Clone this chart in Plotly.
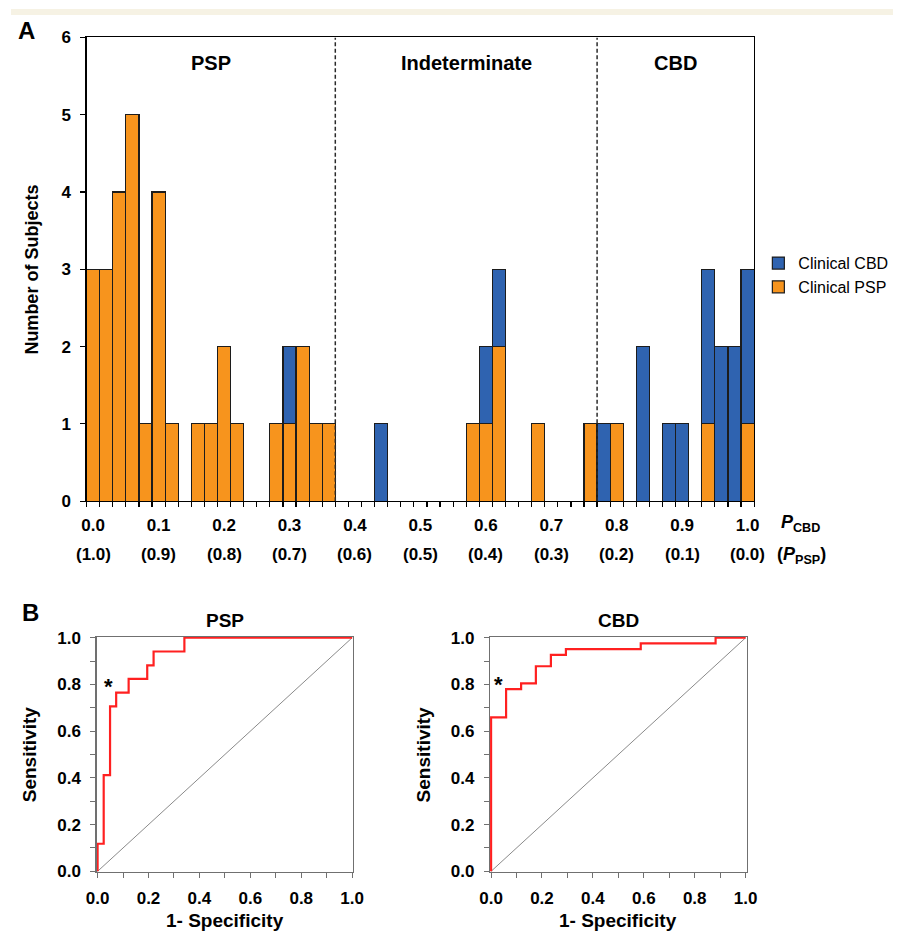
import plotly.graph_objects as go

# ---------------- data ----------------
bin_centers = [0.00, 0.02, 0.04, 0.06, 0.08, 0.10, 0.12, 0.14, 0.16, 0.18,
               0.20, 0.22, 0.24, 0.26, 0.28, 0.30, 0.32, 0.34, 0.36, 0.38,
               0.40, 0.42, 0.44, 0.46, 0.48, 0.50, 0.52, 0.54, 0.56, 0.58,
               0.60, 0.62, 0.64, 0.66, 0.68, 0.70, 0.72, 0.74, 0.76, 0.78,
               0.80, 0.82, 0.84, 0.86, 0.88, 0.90, 0.92, 0.94, 0.96, 0.98, 1.00]
clinical_psp = [3, 3, 4, 5, 1, 4, 1, 0, 1, 1,
                2, 1, 0, 0, 1, 1, 2, 1, 1, 0,
                0, 0, 0, 0, 0, 0, 0, 0, 0, 1,
                1, 2, 0, 0, 1, 0, 0, 0, 1, 0,
                1, 0, 0, 0, 0, 0, 0, 1, 0, 0, 1]
clinical_cbd = [0, 0, 0, 0, 0, 0, 0, 0, 0, 0,
                0, 0, 0, 0, 0, 1, 0, 0, 0, 0,
                0, 0, 1, 0, 0, 0, 0, 0, 0, 0,
                1, 1, 0, 0, 0, 0, 0, 0, 0, 1,
                0, 0, 2, 0, 1, 1, 0, 2, 2, 2, 2]
thresholds = [0.37, 0.77]
region_labels = ["PSP", "Indeterminate", "CBD"]
region_x = [0.18, 0.57, 0.89]
pcbd_ticks = [0.0, 0.1, 0.2, 0.3, 0.4, 0.5, 0.6, 0.7, 0.8, 0.9, 1.0]
pcbd_text = ["0.0", "0.1", "0.2", "0.3", "0.4", "0.5", "0.6", "0.7", "0.8", "0.9", "1.0"]
ppsp_text = ["(1.0)", "(0.9)", "(0.8)", "(0.7)", "(0.6)", "(0.5)", "(0.4)", "(0.3)", "(0.2)", "(0.1)", "(0.0)"]

# ROC curves (corner points, vertical-then-horizontal steps)
psp_fpr = [0.0, 0.024, 0.049, 0.073, 0.122, 0.195, 0.220, 0.341, 1.0]
psp_tpr = [0.0, 0.118, 0.412, 0.706, 0.765, 0.824, 0.882, 0.941, 1.0]
cbd_fpr = [0.0, 0.059, 0.118, 0.176, 0.235, 0.294, 0.588, 0.882, 1.0]
cbd_tpr = [0.0, 0.659, 0.780, 0.805, 0.878, 0.927, 0.951, 0.976, 1.0]
psp_star = (0.044, 0.79)
cbd_star = (0.030, 0.80)
roc_ticks = [0.0, 0.2, 0.4, 0.6, 0.8, 1.0]
roc_text = ["0.0", "0.2", "0.4", "0.6", "0.8", "1.0"]

# ---------------- style ----------------
W, H = 904, 944
FONT = "Liberation Sans, Arial, sans-serif"
ORANGE = "#F7941D"
BLUE = "#2F63B0"
EDGE = "#1c1c1c"
RED = "#FF2020"
FRAME = "#707070"


def xp(px):
    return px / W


def yp(px):
    return 1 - px / H


fig = go.Figure()

fig.add_trace(go.Bar(x=bin_centers, y=clinical_psp, width=0.02, name="Clinical PSP",
                     marker=dict(color=ORANGE, line=dict(color=EDGE, width=1.2)),
                     xaxis="x", yaxis="y"))
fig.add_trace(go.Bar(x=bin_centers, y=clinical_cbd, width=0.02, name="Clinical CBD",
                     marker=dict(color=BLUE, line=dict(color=EDGE, width=1.2)),
                     xaxis="x", yaxis="y"))

for fpr, tpr, xa, ya in [(psp_fpr, psp_tpr, "x2", "y2"), (cbd_fpr, cbd_tpr, "x3", "y3")]:
    fig.add_trace(go.Scatter(x=[0, 1], y=[0, 1], mode="lines", showlegend=False,
                             line=dict(color="#8a8a8a", width=1), xaxis=xa, yaxis=ya))
    fig.add_trace(go.Scatter(x=fpr, y=tpr, mode="lines", showlegend=False,
                             line=dict(color=RED, width=2.2, shape="vh"), xaxis=xa, yaxis=ya))

tickfont = dict(family=FONT, size=17, color="black", weight="bold")

hist_x = [xp(77.5), xp(761.7)]
hist_y = [yp(502.3), yp(29)]
roc_y = [yp(881), yp(640.7)]
roc1_x = [xp(87.7), xp(350.7)]
roc2_x = [xp(491), xp(754)]

layout = dict(
    width=W, height=H, margin=dict(l=0, r=0, t=0, b=0),
    paper_bgcolor="white", plot_bgcolor="white",
    barmode="stack", bargap=0,
    showlegend=True,
    legend=dict(x=xp(766), y=yp(242), xanchor="left", yanchor="top",
                traceorder="reversed", font=dict(family=FONT, size=16, color="black"),
                bgcolor="rgba(0,0,0,0)", tracegroupgap=0),
    xaxis=dict(domain=hist_x, range=[-0.01, 1.01], tickvals=pcbd_ticks, ticktext=pcbd_text,
               ticks="", showline=True, linecolor="black", linewidth=1.3, mirror=True,
               showgrid=False, zeroline=False, tickfont=tickfont, ticklabelstandoff=8,
               minor=dict(tick0=-0.01, dtick=0.02, ticks="outside", ticklen=5,
                          tickcolor="black", tickwidth=1.2, showgrid=False),
               anchor="y", fixedrange=True),
    yaxis=dict(domain=hist_y, range=[0, 6], dtick=1, ticks="outside", ticklen=5,
               tickcolor="black", tickwidth=1.2, showline=True, linecolor="black",
               linewidth=1.3, mirror=True, showgrid=False, zeroline=False,
               tickfont=tickfont, ticklabelstandoff=6, anchor="x"),
)

for i, (xd, xa, ya) in enumerate([(roc1_x, "xaxis2", "yaxis2"), (roc2_x, "xaxis3", "yaxis3")]):
    n = str(i + 2)
    layout[xa] = dict(domain=xd, range=[-0.004, 1.004], tickvals=roc_ticks, ticktext=roc_text,
                      ticks="outside", ticklen=5, tickcolor=FRAME, showline=True,
                      linecolor=FRAME, linewidth=1.2, mirror=True, showgrid=False,
                      zeroline=False, tickfont=tickfont, ticklabelstandoff=5,
                      minor=dict(dtick=0.1, tick0=0, ticks="outside", ticklen=5,
                                 tickcolor=FRAME, showgrid=False),
                      anchor="y" + n)
    layout[ya] = dict(domain=roc_y, range=[-0.004, 1.004], tickvals=roc_ticks, ticktext=roc_text,
                      ticks="outside", ticklen=5, tickcolor=FRAME, showline=True,
                      linecolor=FRAME, linewidth=1.2, mirror=True, showgrid=False,
                      zeroline=False, tickfont=tickfont, ticklabelstandoff=6,
                      minor=dict(dtick=0.1, tick0=0, ticks="outside", ticklen=5,
                                 tickcolor=FRAME, showgrid=False),
                      anchor="x" + n)

fig.update_layout(**layout)

shapes = [dict(type="rect", xref="paper", yref="paper", x0=0, x1=1, y0=yp(6), y1=1,
               fillcolor="#F6F2E4", line=dict(width=0), layer="below")]
for t in thresholds:
    shapes.append(dict(type="line", xref="x", yref="y", x0=t, x1=t, y0=0, y1=6,
                       line=dict(color="#2a2a2a", width=1.5, dash="4px,2.5px")))
fig.update_layout(shapes=shapes)

ann = []


def bold(txt, x, y, size, xref="paper", yref="paper", angle=0, xanchor="center"):
    ann.append(dict(text="<b>" + txt + "</b>", x=x, y=y, xref=xref, yref=yref,
                    showarrow=False, textangle=angle, xanchor=xanchor, yanchor="middle",
                    font=dict(family=FONT, size=size, color="black")))


bold("A", xp(16), yp(22), 24)
bold("B", xp(20), yp(616), 24)
for lab, xv in zip(region_labels, region_x):
    bold(lab, xv, 5.67, 20, xref="x", yref="y")
for xv, txt in zip(pcbd_ticks, ppsp_text):
    bold(txt, xv, yp(557), 17, xref="x")
bold("<i>P</i><sub>CBD</sub>", xp(787), yp(525), 18, xanchor="left")
bold("(<i>P</i><sub>PSP</sub>)", xp(783), yp(558), 18, xanchor="left")
bold("Number of Subjects", xp(22), yp(265.5), 18, angle=-90)
bold("PSP", (roc1_x[0] + roc1_x[1]) / 2, yp(624), 19)
bold("CBD", (roc2_x[0] + roc2_x[1]) / 2, yp(624), 19)
bold("Sensitivity", xp(19), yp(761), 19, angle=-90)
bold("Sensitivity", xp(423), yp(761), 19, angle=-90)
bold("1- Specificity", (roc1_x[0] + roc1_x[1]) / 2, yp(930), 19)
bold("1- Specificity", (roc2_x[0] + roc2_x[1]) / 2, yp(930), 19)
bold("*", psp_star[0], psp_star[1], 22, xref="x2", yref="y2")
bold("*", cbd_star[0], cbd_star[1], 22, xref="x3", yref="y3")
fig.update_layout(annotations=ann)

post = ("var d=document.getElementById('{plot_id}');"
        "d.style.position='fixed';d.style.left='0px';d.style.top='0px';"
        "document.documentElement.style.margin='0';document.body.style.margin='0';"
        "document.body.style.padding='0';document.documentElement.style.overflow='hidden';"
        "document.body.style.overflow='hidden';")
fig.write_html("out.html", post_script=post,
               config={"displayModeBar": False, "staticPlot": True})
